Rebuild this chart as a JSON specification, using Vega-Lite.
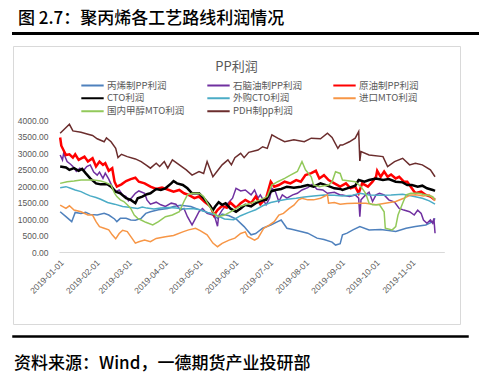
{
  "$schema": "https://vega.github.io/schema/vega-lite/v6.json",
  "padding": {"left": 12, "top": 9, "right": 0, "bottom": 0},
  "spacing": 12,
  "bounds": "flush",
  "background": "white",
  "config": {"view": {"stroke": null}, "font": "Noto Sans CJK SC"},
  "datasets": {
    "A": [{"d":"2019-01-02","v":1220},{"d":"2019-01-07","v":1070},{"d":"2019-01-12","v":920},{"d":"2019-01-15","v":1200},{"d":"2019-01-20","v":1170},{"d":"2019-01-24","v":1200},{"d":"2019-01-28","v":1140},{"d":"2019-02-03","v":1120},{"d":"2019-02-09","v":1170},{"d":"2019-02-13","v":1120},{"d":"2019-02-18","v":1000},{"d":"2019-02-20","v":920},{"d":"2019-02-23","v":1020},{"d":"2019-02-28","v":1020},{"d":"2019-03-04","v":970},{"d":"2019-03-08","v":960},{"d":"2019-03-13","v":1020},{"d":"2019-03-17","v":1170},{"d":"2019-03-21","v":1220},{"d":"2019-03-28","v":1280},{"d":"2019-04-05","v":1320},{"d":"2019-04-10","v":1380},{"d":"2019-04-16","v":1420},{"d":"2019-04-25","v":1380},{"d":"2019-05-03","v":1270},{"d":"2019-05-12","v":1170},{"d":"2019-05-18","v":1020},{"d":"2019-05-22","v":1150},{"d":"2019-05-28","v":1100},{"d":"2019-06-03","v":1000},{"d":"2019-06-10","v":770},{"d":"2019-06-16","v":520},{"d":"2019-06-20","v":560},{"d":"2019-06-26","v":720},{"d":"2019-07-03","v":820},{"d":"2019-07-09","v":920},{"d":"2019-07-12","v":970},{"d":"2019-07-17","v":720},{"d":"2019-07-22","v":680},{"d":"2019-07-29","v":620},{"d":"2019-08-04","v":570},{"d":"2019-08-12","v":420},{"d":"2019-08-18","v":380},{"d":"2019-08-25","v":300},{"d":"2019-08-28","v":210},{"d":"2019-09-01","v":250},{"d":"2019-09-03","v":520},{"d":"2019-09-07","v":570},{"d":"2019-09-12","v":670},{"d":"2019-09-18","v":770},{"d":"2019-09-26","v":670},{"d":"2019-10-06","v":680},{"d":"2019-10-13","v":650},{"d":"2019-10-19","v":620},{"d":"2019-10-28","v":720},{"d":"2019-11-05","v":770},{"d":"2019-11-14","v":820},{"d":"2019-11-20","v":920},{"d":"2019-11-22","v":1020}],
    "B": [{"d":"2019-01-02","v":2940},{"d":"2019-01-04","v":2790},{"d":"2019-01-05","v":2990},{"d":"2019-01-08","v":2740},{"d":"2019-01-11","v":2660},{"d":"2019-01-13","v":2590},{"d":"2019-01-16","v":2440},{"d":"2019-01-19","v":2540},{"d":"2019-01-22","v":2460},{"d":"2019-01-25","v":2590},{"d":"2019-01-28","v":2640},{"d":"2019-01-31","v":2420},{"d":"2019-02-03","v":2330},{"d":"2019-02-05","v":2420},{"d":"2019-02-08","v":2230},{"d":"2019-02-10","v":2390},{"d":"2019-02-13","v":2210},{"d":"2019-02-16","v":1980},{"d":"2019-02-19","v":1830},{"d":"2019-02-22","v":1880},{"d":"2019-02-25","v":1730},{"d":"2019-02-28","v":1680},{"d":"2019-03-02","v":1550},{"d":"2019-03-05","v":1650},{"d":"2019-03-08","v":1780},{"d":"2019-03-11","v":1850},{"d":"2019-03-16","v":1780},{"d":"2019-03-18","v":1580},{"d":"2019-03-21","v":1450},{"d":"2019-03-26","v":1510},{"d":"2019-03-30","v":1430},{"d":"2019-04-03","v":1380},{"d":"2019-04-08","v":1480},{"d":"2019-04-12","v":1450},{"d":"2019-04-16","v":1270},{"d":"2019-04-19","v":1320},{"d":"2019-04-22","v":1070},{"d":"2019-04-26","v":820},{"d":"2019-04-29","v":1020},{"d":"2019-05-02","v":1220},{"d":"2019-05-05","v":1320},{"d":"2019-05-09","v":1170},{"d":"2019-05-14","v":1120},{"d":"2019-05-16","v":1020},{"d":"2019-05-18","v":780},{"d":"2019-05-19","v":1100},{"d":"2019-05-22","v":1270},{"d":"2019-05-27","v":1480},{"d":"2019-05-31","v":1630},{"d":"2019-06-03","v":1930},{"d":"2019-06-07","v":1850},{"d":"2019-06-11","v":1880},{"d":"2019-06-16","v":1730},{"d":"2019-06-19","v":1880},{"d":"2019-06-22","v":1630},{"d":"2019-06-24","v":1730},{"d":"2019-06-29","v":1430},{"d":"2019-07-02","v":1630},{"d":"2019-07-04","v":1930},{"d":"2019-07-07","v":1830},{"d":"2019-07-10","v":1530},{"d":"2019-07-13","v":1730},{"d":"2019-07-17","v":1630},{"d":"2019-07-22","v":1730},{"d":"2019-07-26","v":1780},{"d":"2019-07-30","v":1880},{"d":"2019-08-04","v":1950},{"d":"2019-08-08","v":2050},{"d":"2019-08-12","v":1900},{"d":"2019-08-17","v":1880},{"d":"2019-08-21","v":1780},{"d":"2019-08-27","v":1810},{"d":"2019-09-01","v":1730},{"d":"2019-09-03","v":1730},{"d":"2019-09-09","v":1680},{"d":"2019-09-14","v":1730},{"d":"2019-09-17","v":1630},{"d":"2019-09-18","v":1070},{"d":"2019-09-19","v":1580},{"d":"2019-09-23","v":1730},{"d":"2019-09-26","v":1810},{"d":"2019-09-29","v":1530},{"d":"2019-10-02","v":1730},{"d":"2019-10-05","v":1780},{"d":"2019-10-09","v":1730},{"d":"2019-10-13","v":1580},{"d":"2019-10-18","v":1510},{"d":"2019-10-22","v":1320},{"d":"2019-10-26","v":1270},{"d":"2019-10-31","v":1220},{"d":"2019-11-04","v":1120},{"d":"2019-11-07","v":1270},{"d":"2019-11-10","v":1170},{"d":"2019-11-12","v":970},{"d":"2019-11-15","v":870},{"d":"2019-11-18","v":970},{"d":"2019-11-20","v":870},{"d":"2019-11-21","v":1020},{"d":"2019-11-22","v":570}],
    "C": [{"d":"2019-01-02","v":3470},{"d":"2019-01-03","v":3220},{"d":"2019-01-07","v":2940},{"d":"2019-01-10","v":2960},{"d":"2019-01-13","v":2860},{"d":"2019-01-15","v":2960},{"d":"2019-01-18","v":2790},{"d":"2019-01-23","v":2890},{"d":"2019-01-26","v":2740},{"d":"2019-01-30","v":2840},{"d":"2019-02-02","v":2590},{"d":"2019-02-05","v":2740},{"d":"2019-02-08","v":2640},{"d":"2019-02-10","v":2690},{"d":"2019-02-13","v":2460},{"d":"2019-02-16","v":2540},{"d":"2019-02-18","v":2130},{"d":"2019-02-20","v":1980},{"d":"2019-02-24","v":2050},{"d":"2019-02-28","v":2150},{"d":"2019-03-04","v":2210},{"d":"2019-03-08","v":2250},{"d":"2019-03-11","v":2130},{"d":"2019-03-16","v":2080},{"d":"2019-03-21","v":1980},{"d":"2019-03-26","v":1910},{"d":"2019-03-31","v":1950},{"d":"2019-04-06","v":1880},{"d":"2019-04-10","v":1830},{"d":"2019-04-15","v":1880},{"d":"2019-04-19","v":1780},{"d":"2019-04-23","v":1730},{"d":"2019-04-28","v":1630},{"d":"2019-05-02","v":1680},{"d":"2019-05-07","v":1510},{"d":"2019-05-12","v":1380},{"d":"2019-05-15","v":1120},{"d":"2019-05-18","v":1270},{"d":"2019-05-22","v":1400},{"d":"2019-05-26","v":1340},{"d":"2019-05-29","v":1500},{"d":"2019-06-03","v":1340},{"d":"2019-06-07","v":1480},{"d":"2019-06-11","v":1580},{"d":"2019-06-16","v":1480},{"d":"2019-06-20","v":1680},{"d":"2019-06-24","v":1450},{"d":"2019-06-29","v":1630},{"d":"2019-07-03","v":2130},{"d":"2019-07-06","v":1980},{"d":"2019-07-10","v":2030},{"d":"2019-07-15","v":2130},{"d":"2019-07-20","v":2080},{"d":"2019-07-25","v":2180},{"d":"2019-07-29","v":2130},{"d":"2019-08-02","v":2330},{"d":"2019-08-07","v":2390},{"d":"2019-08-11","v":2460},{"d":"2019-08-14","v":2230},{"d":"2019-08-18","v":2330},{"d":"2019-08-22","v":2180},{"d":"2019-08-27","v":2080},{"d":"2019-09-01","v":1980},{"d":"2019-09-06","v":2080},{"d":"2019-09-10","v":1930},{"d":"2019-09-14","v":1980},{"d":"2019-09-17","v":1780},{"d":"2019-09-20","v":2080},{"d":"2019-09-25","v":1980},{"d":"2019-09-29","v":2130},{"d":"2019-10-02","v":2280},{"d":"2019-10-03","v":2460},{"d":"2019-10-06","v":2280},{"d":"2019-10-09","v":2440},{"d":"2019-10-12","v":2280},{"d":"2019-10-15","v":2350},{"d":"2019-10-19","v":2230},{"d":"2019-10-22","v":2280},{"d":"2019-10-26","v":2130},{"d":"2019-10-29","v":2130},{"d":"2019-11-01","v":1980},{"d":"2019-11-05","v":1780},{"d":"2019-11-10","v":1830},{"d":"2019-11-14","v":1730},{"d":"2019-11-18","v":1680},{"d":"2019-11-22","v":1580}],
    "D": [{"d":"2019-01-02","v":2590},{"d":"2019-01-07","v":2560},{"d":"2019-01-10","v":2490},{"d":"2019-01-14","v":2540},{"d":"2019-01-18","v":2460},{"d":"2019-01-21","v":2520},{"d":"2019-01-24","v":2390},{"d":"2019-01-28","v":2230},{"d":"2019-02-02","v":2080},{"d":"2019-02-06","v":2050},{"d":"2019-02-12","v":2050},{"d":"2019-02-15","v":1980},{"d":"2019-02-19","v":1830},{"d":"2019-02-23","v":1780},{"d":"2019-02-28","v":1630},{"d":"2019-03-04","v":1580},{"d":"2019-03-08","v":1480},{"d":"2019-03-10","v":1630},{"d":"2019-03-14","v":1680},{"d":"2019-03-18","v":1750},{"d":"2019-03-21","v":1780},{"d":"2019-03-26","v":1910},{"d":"2019-03-30","v":1880},{"d":"2019-04-03","v":1930},{"d":"2019-04-08","v":2080},{"d":"2019-04-10","v":2150},{"d":"2019-04-13","v":2080},{"d":"2019-04-18","v":2030},{"d":"2019-04-22","v":1930},{"d":"2019-04-26","v":1780},{"d":"2019-05-02","v":1780},{"d":"2019-05-06","v":1630},{"d":"2019-05-11","v":1430},{"d":"2019-05-14","v":1270},{"d":"2019-05-16","v":1380},{"d":"2019-05-19","v":1510},{"d":"2019-05-22","v":1430},{"d":"2019-05-25","v":1480},{"d":"2019-05-29","v":1320},{"d":"2019-06-03","v":1220},{"d":"2019-06-07","v":1320},{"d":"2019-06-11","v":1430},{"d":"2019-06-16","v":1380},{"d":"2019-06-20","v":1480},{"d":"2019-06-24","v":1550},{"d":"2019-06-29","v":1580},{"d":"2019-07-03","v":1830},{"d":"2019-07-07","v":1880},{"d":"2019-07-12","v":1910},{"d":"2019-07-17","v":1980},{"d":"2019-07-23","v":1950},{"d":"2019-07-29","v":1980},{"d":"2019-08-04","v":2030},{"d":"2019-08-09","v":1980},{"d":"2019-08-15","v":2080},{"d":"2019-08-21","v":2010},{"d":"2019-08-27","v":1930},{"d":"2019-09-01","v":1910},{"d":"2019-09-03","v":1880},{"d":"2019-09-09","v":1950},{"d":"2019-09-14","v":2010},{"d":"2019-09-17","v":2180},{"d":"2019-09-22","v":2130},{"d":"2019-09-26","v":2180},{"d":"2019-10-02","v":2230},{"d":"2019-10-08","v":2180},{"d":"2019-10-13","v":2210},{"d":"2019-10-19","v":2130},{"d":"2019-10-25","v":2110},{"d":"2019-10-29","v":2030},{"d":"2019-11-02","v":2030},{"d":"2019-11-07","v":1980},{"d":"2019-11-11","v":2010},{"d":"2019-11-15","v":1930},{"d":"2019-11-20","v":1880},{"d":"2019-11-22","v":1850}],
    "E": [{"d":"2019-01-02","v":1950},{"d":"2019-01-07","v":1980},{"d":"2019-01-11","v":1930},{"d":"2019-01-15","v":1880},{"d":"2019-01-20","v":1830},{"d":"2019-01-24","v":1760},{"d":"2019-01-28","v":1700},{"d":"2019-02-02","v":1650},{"d":"2019-02-06","v":1600},{"d":"2019-02-12","v":1500},{"d":"2019-02-18","v":1450},{"d":"2019-02-25","v":1380},{"d":"2019-03-04","v":1350},{"d":"2019-03-10","v":1320},{"d":"2019-03-14","v":1360},{"d":"2019-03-18","v":1330},{"d":"2019-03-24","v":1300},{"d":"2019-03-30","v":1330},{"d":"2019-04-06","v":1350},{"d":"2019-04-12","v":1330},{"d":"2019-04-19","v":1300},{"d":"2019-04-26","v":1320},{"d":"2019-05-03","v":1280},{"d":"2019-05-09","v":1200},{"d":"2019-05-14","v":1150},{"d":"2019-05-19","v":1080},{"d":"2019-05-24","v":1000},{"d":"2019-06-01","v":980},{"d":"2019-06-07","v":1100},{"d":"2019-06-14","v":1200},{"d":"2019-06-20","v":1280},{"d":"2019-06-26","v":1400},{"d":"2019-07-03","v":1500},{"d":"2019-07-10","v":1550},{"d":"2019-07-17","v":1600},{"d":"2019-07-25","v":1630},{"d":"2019-08-01","v":1670},{"d":"2019-08-09","v":1700},{"d":"2019-08-18","v":1730},{"d":"2019-08-27","v":1720},{"d":"2019-09-03","v":1700},{"d":"2019-09-12","v":1720},{"d":"2019-09-18","v":1780},{"d":"2019-09-26","v":1730},{"d":"2019-10-06","v":1720},{"d":"2019-10-15","v":1730},{"d":"2019-10-25","v":1750},{"d":"2019-11-02","v":1700},{"d":"2019-11-11","v":1630},{"d":"2019-11-17","v":1550},{"d":"2019-11-22","v":1450}],
    "F": [{"d":"2019-01-02","v":1420},{"d":"2019-01-07","v":1320},{"d":"2019-01-10","v":1400},{"d":"2019-01-14","v":1270},{"d":"2019-01-20","v":1220},{"d":"2019-01-26","v":1120},{"d":"2019-01-30","v":1120},{"d":"2019-02-02","v":920},{"d":"2019-02-05","v":770},{"d":"2019-02-09","v":720},{"d":"2019-02-13","v":670},{"d":"2019-02-16","v":520},{"d":"2019-02-19","v":400},{"d":"2019-02-22","v":560},{"d":"2019-02-25","v":660},{"d":"2019-03-01","v":620},{"d":"2019-03-05","v":420},{"d":"2019-03-08","v":270},{"d":"2019-03-11","v":310},{"d":"2019-03-16","v":360},{"d":"2019-03-21","v":310},{"d":"2019-03-26","v":410},{"d":"2019-04-03","v":460},{"d":"2019-04-10","v":500},{"d":"2019-04-18","v":610},{"d":"2019-04-23","v":670},{"d":"2019-04-29","v":720},{"d":"2019-05-03","v":650},{"d":"2019-05-09","v":520},{"d":"2019-05-14","v":270},{"d":"2019-05-18","v":160},{"d":"2019-05-22","v":260},{"d":"2019-05-28","v":360},{"d":"2019-06-02","v":420},{"d":"2019-06-07","v":560},{"d":"2019-06-11","v":610},{"d":"2019-06-13","v":470},{"d":"2019-06-19","v":360},{"d":"2019-06-22","v":420},{"d":"2019-06-27","v":720},{"d":"2019-07-02","v":820},{"d":"2019-07-06","v":920},{"d":"2019-07-10","v":1120},{"d":"2019-07-14","v":1170},{"d":"2019-07-19","v":1320},{"d":"2019-07-23","v":1420},{"d":"2019-07-27","v":1580},{"d":"2019-07-30","v":1630},{"d":"2019-08-04","v":1580},{"d":"2019-08-09","v":1580},{"d":"2019-08-15","v":1630},{"d":"2019-08-21","v":1730},{"d":"2019-08-22","v":1480},{"d":"2019-08-27","v":1500},{"d":"2019-09-01","v":1450},{"d":"2019-09-07","v":1470},{"d":"2019-09-14","v":1480},{"d":"2019-09-23","v":1480},{"d":"2019-10-02","v":1430},{"d":"2019-10-10","v":1480},{"d":"2019-10-19","v":1530},{"d":"2019-10-26","v":1630},{"d":"2019-11-01","v":1730},{"d":"2019-11-07","v":1730},{"d":"2019-11-12","v":1700},{"d":"2019-11-17","v":1730},{"d":"2019-11-21","v":1600},{"d":"2019-11-22","v":1550}],
    "G": [{"d":"2019-01-02","v":2080},{"d":"2019-01-08","v":2130},{"d":"2019-01-14","v":2150},{"d":"2019-01-20","v":2180},{"d":"2019-01-26","v":2180},{"d":"2019-01-31","v":2180},{"d":"2019-02-06","v":2150},{"d":"2019-02-10","v":2110},{"d":"2019-02-15","v":2030},{"d":"2019-02-18","v":1780},{"d":"2019-02-20","v":1680},{"d":"2019-02-23","v":1580},{"d":"2019-02-26","v":1530},{"d":"2019-03-01","v":1430},{"d":"2019-03-04","v":1320},{"d":"2019-03-07","v":1120},{"d":"2019-03-10","v":1020},{"d":"2019-03-13","v":970},{"d":"2019-03-17","v":900},{"d":"2019-03-23","v":820},{"d":"2019-03-28","v":920},{"d":"2019-04-03","v":1070},{"d":"2019-04-09","v":1120},{"d":"2019-04-15","v":1220},{"d":"2019-04-19","v":1530},{"d":"2019-04-22","v":1730},{"d":"2019-04-26","v":1780},{"d":"2019-05-02","v":1780},{"d":"2019-05-06","v":1680},{"d":"2019-05-11","v":1380},{"d":"2019-05-15","v":1170},{"d":"2019-05-19","v":1070},{"d":"2019-05-24","v":1120},{"d":"2019-06-01","v":1270},{"d":"2019-06-06","v":1380},{"d":"2019-06-11","v":1430},{"d":"2019-06-16","v":1480},{"d":"2019-06-24","v":1580},{"d":"2019-06-30","v":1680},{"d":"2019-07-04","v":2030},{"d":"2019-07-09","v":2130},{"d":"2019-07-15","v":2230},{"d":"2019-07-20","v":2330},{"d":"2019-07-26","v":2440},{"d":"2019-07-30","v":2740},{"d":"2019-08-02","v":2490},{"d":"2019-08-07","v":2280},{"d":"2019-08-09","v":2030},{"d":"2019-08-14","v":1980},{"d":"2019-08-18","v":2010},{"d":"2019-08-22","v":2030},{"d":"2019-08-25","v":2130},{"d":"2019-08-28","v":2430},{"d":"2019-09-01","v":2380},{"d":"2019-09-03","v":2180},{"d":"2019-09-14","v":2130},{"d":"2019-09-19","v":1980},{"d":"2019-09-23","v":1780},{"d":"2019-09-26","v":1480},{"d":"2019-09-29","v":1430},{"d":"2019-10-05","v":1430},{"d":"2019-10-09","v":1220},{"d":"2019-10-10","v":720},{"d":"2019-10-16","v":670},{"d":"2019-10-19","v":770},{"d":"2019-10-21","v":1120},{"d":"2019-10-25","v":1480},{"d":"2019-10-28","v":1730},{"d":"2019-11-01","v":1780},{"d":"2019-11-08","v":1780},{"d":"2019-11-14","v":1730},{"d":"2019-11-20","v":1680},{"d":"2019-11-22","v":1580}],
    "H": [{"d":"2019-01-02","v":3600},{"d":"2019-01-10","v":3870},{"d":"2019-01-13","v":3670},{"d":"2019-01-20","v":3630},{"d":"2019-01-26","v":3570},{"d":"2019-01-30","v":3530},{"d":"2019-02-03","v":3430},{"d":"2019-02-09","v":3340},{"d":"2019-02-11","v":3460},{"d":"2019-02-15","v":3340},{"d":"2019-02-19","v":3140},{"d":"2019-02-21","v":2860},{"d":"2019-02-24","v":2960},{"d":"2019-03-01","v":2890},{"d":"2019-03-08","v":2820},{"d":"2019-03-13","v":2740},{"d":"2019-03-18","v":2620},{"d":"2019-03-21","v":2540},{"d":"2019-03-26","v":2690},{"d":"2019-03-29","v":2590},{"d":"2019-04-02","v":2740},{"d":"2019-04-05","v":2540},{"d":"2019-04-09","v":2790},{"d":"2019-04-15","v":2640},{"d":"2019-04-21","v":2490},{"d":"2019-04-26","v":2330},{"d":"2019-05-02","v":2440},{"d":"2019-05-06","v":2380},{"d":"2019-05-09","v":2740},{"d":"2019-05-14","v":2280},{"d":"2019-05-18","v":2460},{"d":"2019-05-22","v":2640},{"d":"2019-05-27","v":2790},{"d":"2019-05-30","v":2640},{"d":"2019-06-02","v":2860},{"d":"2019-06-07","v":2990},{"d":"2019-06-10","v":2860},{"d":"2019-06-14","v":3020},{"d":"2019-06-22","v":3090},{"d":"2019-06-26","v":3190},{"d":"2019-06-30","v":3140},{"d":"2019-07-04","v":3550},{"d":"2019-07-09","v":3450},{"d":"2019-07-15","v":3340},{"d":"2019-07-23","v":3400},{"d":"2019-08-01","v":3340},{"d":"2019-08-07","v":3450},{"d":"2019-08-15","v":3430},{"d":"2019-08-21","v":3600},{"d":"2019-08-25","v":3470},{"d":"2019-08-30","v":3140},{"d":"2019-09-01","v":3240},{"d":"2019-09-03","v":3240},{"d":"2019-09-09","v":3340},{"d":"2019-09-14","v":3450},{"d":"2019-09-17","v":3650},{"d":"2019-09-18","v":2760},{"d":"2019-09-19","v":3040},{"d":"2019-09-26","v":2940},{"d":"2019-10-08","v":2890},{"d":"2019-10-12","v":2590},{"d":"2019-10-18","v":2740},{"d":"2019-10-25","v":2840},{"d":"2019-10-31","v":2640},{"d":"2019-11-05","v":2690},{"d":"2019-11-11","v":2640},{"d":"2019-11-18","v":2490},{"d":"2019-11-22","v":2280}]
  },
  "vconcat": [
    {
      "width": 465,
      "height": 1,
      "title": {"text": "图 2.7：聚丙烯各工艺路线利润情况", "anchor": "start", "fontSize": 17, "fontWeight": 500, "color": "#000000", "dx": 5, "offset": 5},
      "data": {"values": [{"t": ""}]},
      "mark": {"type": "text", "fontSize": 0},
      "encoding": {"text": {"field": "t"}},
      "view": {"fill": "black", "stroke": "black", "strokeWidth": 2}
    },
    {
      "width": 447,
      "height": 278,
      "view": {"stroke": "#d9d9d9", "strokeWidth": 1, "fill": "white"},
      "title": {"text": "PP利润", "fontSize": 13, "fontWeight": "normal", "color": "#595959", "anchor": "middle", "frame": "group", "offset": -28},
      "encoding": {
        "x": {"field": "d", "type": "temporal",
          "scale": {"domain": [{"year": 2019, "month": 1, "date": 1}, {"year": 2019, "month": 11, "date": 30}], "range": [46, 431.3]},
          "axis": {"orient": "bottom", "offset": -72, "format": "%Y-%m-%d", "labelAngle": -45, "values": [{"year": 2019, "month": 1, "date": 1}, {"year": 2019, "month": 2, "date": 1}, {"year": 2019, "month": 3, "date": 1}, {"year": 2019, "month": 4, "date": 1}, {"year": 2019, "month": 5, "date": 1}, {"year": 2019, "month": 6, "date": 1}, {"year": 2019, "month": 7, "date": 1}, {"year": 2019, "month": 8, "date": 1}, {"year": 2019, "month": 9, "date": 1}, {"year": 2019, "month": 10, "date": 1}, {"year": 2019, "month": 11, "date": 1}], "grid": false, "ticks": false, "domainColor": "#d9d9d9", "domainWidth": 1, "labelColor": "#595959", "labelFontSize": 8.5, "labelFont": "Liberation Sans", "title": null, "labelPadding": 6, "labelOverlap": false, "labelBound": false, "labelFlush": false}},
        "y": {"field": "v", "type": "quantitative",
          "scale": {"domain": [0, 4000], "range": [206, 74]},
          "axis": {"orient": "left", "offset": -46, "values": [0, 500, 1000, 1500, 2000, 2500, 3000, 3500, 4000], "format": ".2f", "grid": false, "ticks": false, "domain": false, "labelColor": "#595959", "labelFontSize": 8.5, "labelFont": "Liberation Sans", "title": null, "labelPadding": 11}}
      },
      "layer": [
        {"data": {"name": "A"}, "mark": {"type": "line", "strokeWidth": 1.5}, "encoding": {"color": {"datum": "丙烯制PP利润", "type": "nominal",
          "scale": {"domain": ["丙烯制PP利润", "石脑油制PP利润", "原油制PP利润", "CTO利润", "外购CTO利润", "进口MTO利润", "国内甲醇MTO利润", "PDH制pp利润"], "range": ["#4F81BD", "#7030A0", "#FF0000", "#000000", "#4BACC6", "#F79646", "#92C95A", "#6B2D2D"]},
          "legend": {"orient": "none", "legendX": 67, "legendY": 47, "direction": "horizontal", "columns": 3, "title": null, "symbolType": "stroke", "symbolSize": 500, "symbolStrokeWidth": 2, "labelFontSize": 9.5, "labelColor": "#595959", "labelFont": "Noto Sans CJK SC", "columnPadding": 21, "rowPadding": 2, "gridAlign": "all", "clipHeight": 10.5, "labelOffset": 2, "labelLimit": 200}}}},
        {"data": {"name": "B"}, "mark": {"type": "line", "strokeWidth": 1.5}, "encoding": {"color": {"datum": "石脑油制PP利润", "type": "nominal"}}},
        {"data": {"name": "C"}, "mark": {"type": "line", "strokeWidth": 2.5}, "encoding": {"color": {"datum": "原油制PP利润", "type": "nominal"}}},
        {"data": {"name": "D"}, "mark": {"type": "line", "strokeWidth": 2.5}, "encoding": {"color": {"datum": "CTO利润", "type": "nominal"}}},
        {"data": {"name": "E"}, "mark": {"type": "line", "strokeWidth": 1.5}, "encoding": {"color": {"datum": "外购CTO利润", "type": "nominal"}}},
        {"data": {"name": "F"}, "mark": {"type": "line", "strokeWidth": 1.5}, "encoding": {"color": {"datum": "进口MTO利润", "type": "nominal"}}},
        {"data": {"name": "G"}, "mark": {"type": "line", "strokeWidth": 1.5}, "encoding": {"color": {"datum": "国内甲醇MTO利润", "type": "nominal"}}},
        {"data": {"name": "H"}, "mark": {"type": "line", "strokeWidth": 1.5}, "encoding": {"color": {"datum": "PDH制pp利润", "type": "nominal"}}}
      ]
    },
    {
      "width": 455,
      "height": 1,
      "title": {"text": "资料来源：Wind，一德期货产业投研部", "orient": "bottom", "anchor": "start", "fontSize": 17, "fontWeight": 500, "color": "#000000", "offset": 19, "dx": 1},
      "data": {"values": [{"t": ""}]},
      "mark": {"type": "text", "fontSize": 0},
      "encoding": {"text": {"field": "t"}},
      "view": {"fill": "black", "stroke": "black", "strokeWidth": 1.5}
    }
  ]
}
